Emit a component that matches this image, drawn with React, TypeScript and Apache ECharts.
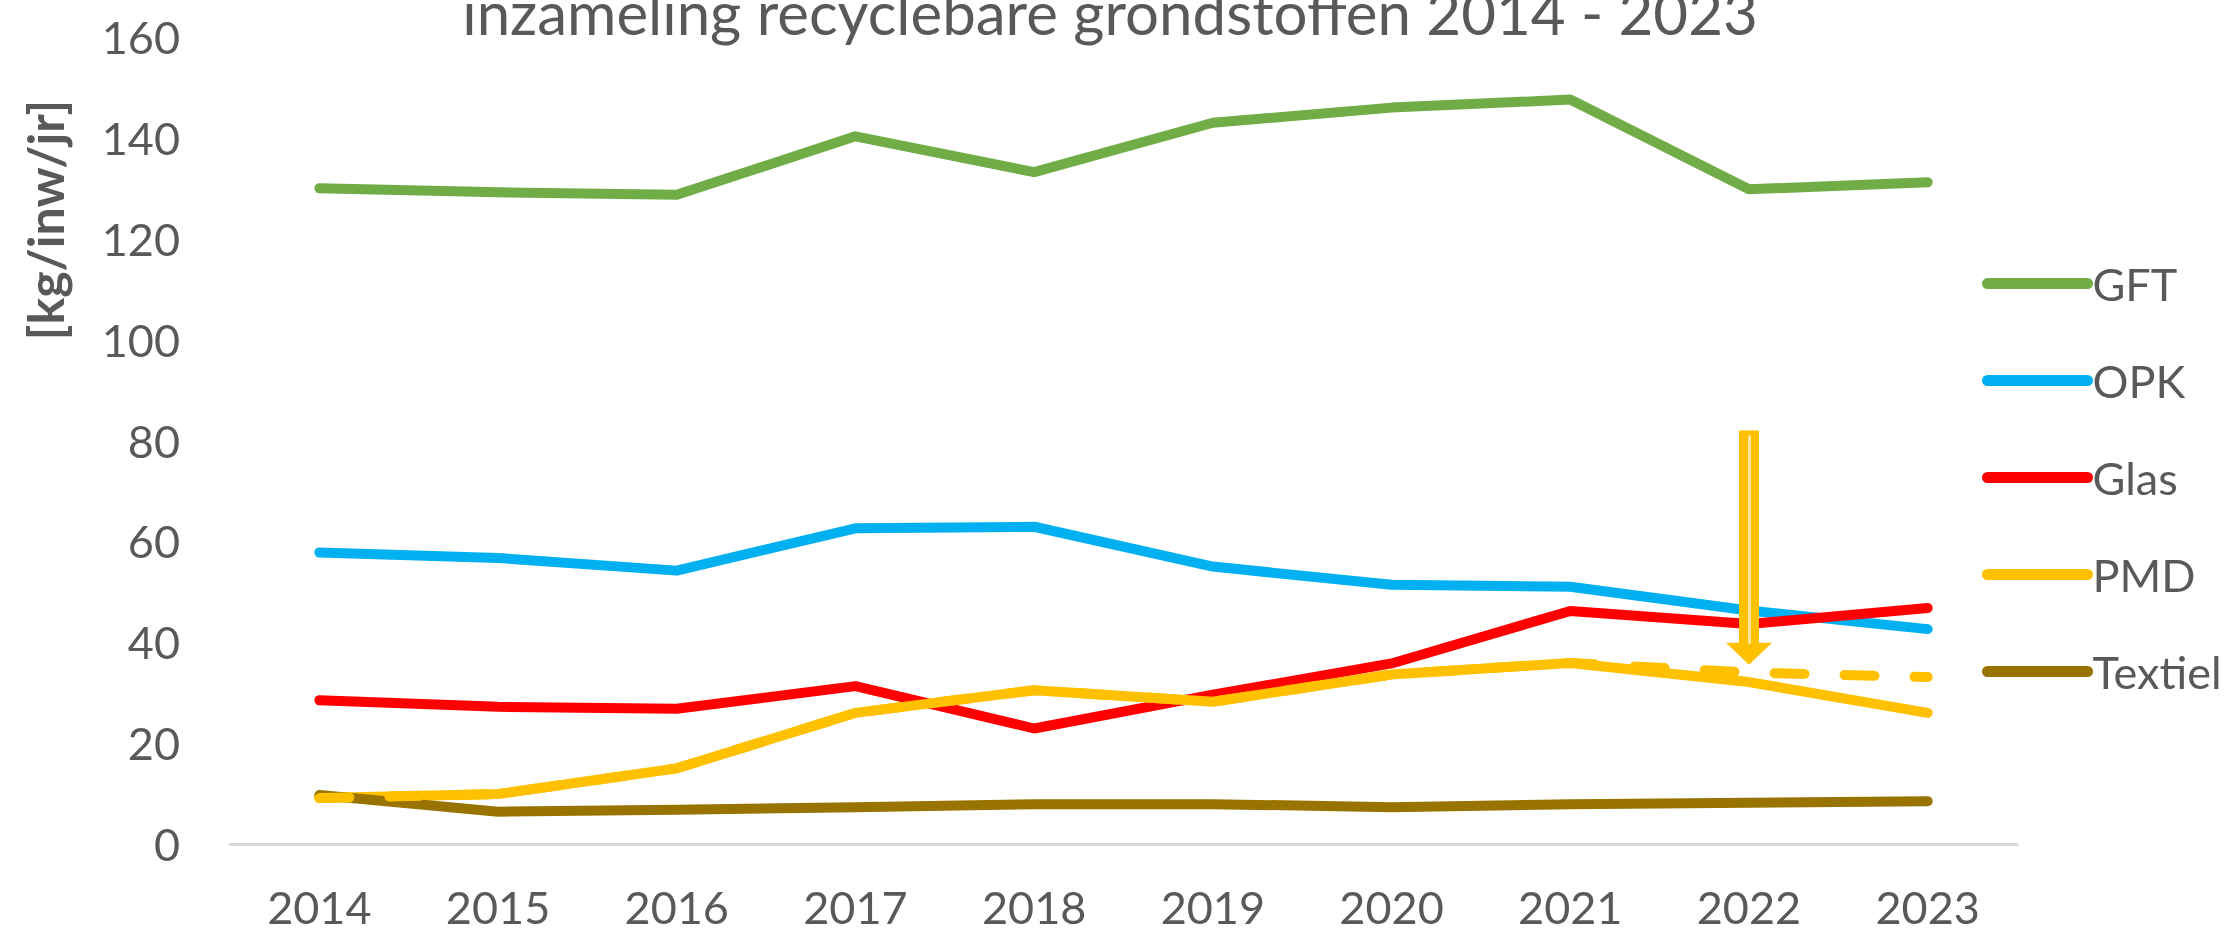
import React, { useEffect, useRef } from 'react';
import * as echarts from 'echarts';

const years = ['2014', '2015', '2016', '2017', '2018', '2019', '2020', '2021', '2022', '2023'];
const gft = [130, 129.2, 128.7, 140.3, 133.2, 143, 146, 147.6, 129.8, 131.2];
const opk = [57.8, 56.7, 54.2, 62.6, 62.9, 55, 51.4, 51, 46.3, 42.6];
const glas = [28.5, 27.2, 26.8, 31.3, 22.9, 29.6, 35.8, 46.2, 43.6, 46.8];
const pmd = [9.1, 9.9, 15, 26, 30.5, 28.2, 33.6, 35.9, 32.1, 26];
const pmdTrend = [9.1, 9.9, 15, 26, 30.5, 28.2, 33.6, 35.9, 34.0, 33.1];
const textiel = [9.7, 6.4, 6.8, 7.3, 7.9, 7.9, 7.3, 7.9, 8.2, 8.5];
const yMin = 0;
const yMax = 160;
const yInterval = 20;
const arrowYear = '2022';
const arrowFrom = 82;
const arrowTo = 37.7;

const titleText = 'inzameling recyclebare grondstoffen 2014 - 2023';
const yName = '[kg/inw/jr]';

const FONT = 'Lato, "Open Sans", sans-serif';
const GREY = '#595959';

export default function App() {
  const ref = useRef<HTMLDivElement>(null);
  useEffect(() => {
    document.body.style.margin = '0';
    const chart = echarts.init(ref.current!, undefined, { renderer: 'svg' });
    const line = (name: string, data: number[], color: string, extra: any = {}) => ({
      name,
      type: 'line',
      data,
      symbol: 'none',
      smooth: false,
      lineStyle: { color, width: 10, cap: 'round', join: 'round' },
      itemStyle: { color },
      ...extra,
    });
    chart.setOption({
      animation: false,
      graphic: [
        {
          type: 'text',
          x: 1110,
          y: 12,
          style: {
            text: titleText,
            fill: GREY,
            fontSize: 60,
            fontFamily: FONT,
            align: 'center',
            verticalAlign: 'middle',
          },
        },
        {
          type: 'text',
          x: 45,
          y: 220,
          rotation: Math.PI / 2,
          style: {
            text: yName,
            fill: GREY,
            fontSize: 50,
            fontWeight: 'bold',
            fontFamily: FONT,
            align: 'center',
            verticalAlign: 'middle',
          },
        },
      ],
      grid: { left: 230, right: 214, top: 37, bottom: 90, containLabel: false },
      legend: {
        data: ['GFT', 'OPK', 'Glas', 'PMD', 'Textiel'],
        orient: 'vertical',
        left: 1977,
        top: 256,
        itemWidth: 100,
        itemHeight: 11,
        itemGap: 52,
        lineStyle: { width: 11, cap: 'round' },
        textStyle: { fontSize: 45, color: GREY, fontFamily: FONT, lineHeight: 45 },
      },
      xAxis: {
        type: 'category',
        data: years,
        boundaryGap: true,
        axisLine: { show: true, lineStyle: { color: '#D9D9D9', width: 3 } },
        axisTick: { show: false },
        axisLabel: { fontSize: 45, color: GREY, fontFamily: FONT, margin: 43, lineHeight: 40 },
        splitLine: { show: false },
      },
      yAxis: {
        type: 'value',
        min: yMin,
        max: yMax,
        interval: yInterval,
        axisLine: { show: false },
        axisTick: { show: false },
        splitLine: { show: false },
        axisLabel: { fontSize: 45, color: GREY, fontFamily: FONT, margin: 50 },
      },
      series: [
        line('GFT', gft, '#70AD47'),
        line('OPK', opk, '#00B0F0'),
        line('Glas', glas, '#FF0000'),
        line('PMD', pmd, '#FFC000'),
        line('Textiel', textiel, '#997300'),
        line('PMD trend', pmdTrend, '#FFC000', {
          lineStyle: { color: '#FFC000', width: 10, cap: 'round', join: 'round', type: [30, 40] },
          markLine: {
            silent: true,
            animation: false,
            label: { show: false },
            data: [
              [
                { coord: [arrowYear, arrowFrom], symbol: 'none', lineStyle: { color: '#FFC000', width: 20, type: 'solid', cap: 'butt' } },
                { coord: [arrowYear, arrowTo], symbol: 'triangle', symbolSize: [46, 22] },
              ],
              [
                { coord: [arrowYear, arrowFrom - 1], symbol: 'none', lineStyle: { color: '#FFE699', width: 3, type: 'solid', cap: 'butt' } },
                { coord: [arrowYear, arrowTo + 2], symbol: 'none' },
              ],
            ],
            itemStyle: { color: '#FFC000' },
            lineStyle: { type: 'solid', color: '#FFC000' },
          },
        }),
      ],
    });
    return () => chart.dispose();
  }, []);
  return <div ref={ref} style={{ position: 'fixed', left: 0, top: 0, width: 2231, height: 934 }} />;
}
